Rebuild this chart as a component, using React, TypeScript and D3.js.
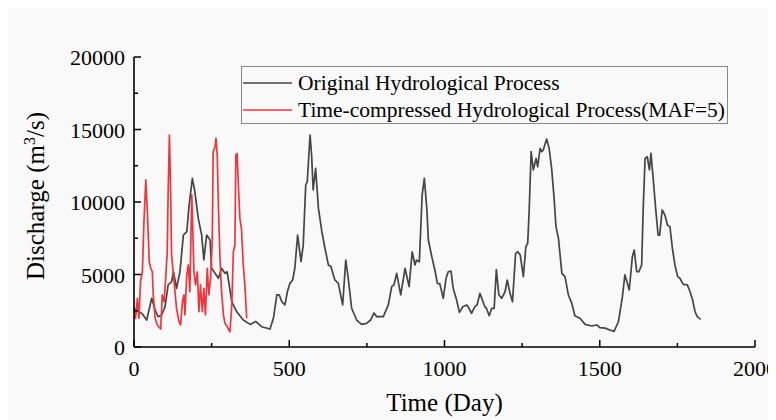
import React from 'react'
import * as d3 from 'd3'

// original series (day, discharge)
const origDays = [0, 25, 41, 57, 68, 78, 89, 100, 110, 121, 127, 137, 148, 159, 170, 177, 188, 196, 207, 218, 225, 234, 245, 250, 272, 282, 293, 300, 315, 331, 352, 374, 392, 411, 438, 449, 460, 468, 476, 486, 494, 502, 511, 518, 527, 538, 545, 553, 558, 567, 572, 577, 585, 594, 605, 615, 626, 634, 647, 658, 672, 682, 690, 701, 717, 733, 749, 762, 773, 782, 803, 819, 830, 837, 846, 859, 873, 886, 896, 905, 910, 919, 928, 935, 943, 948, 959, 969, 977, 985, 996, 1005, 1012, 1021, 1028, 1039, 1048, 1059, 1071, 1076, 1087, 1098, 1105, 1114, 1130, 1135, 1144, 1152, 1160, 1167, 1175, 1184, 1195, 1202, 1211, 1219, 1229, 1236, 1244, 1254, 1262, 1268, 1273, 1279, 1286, 1295, 1300, 1308, 1313, 1318, 1329, 1337, 1345, 1353, 1359, 1367, 1378, 1388, 1399, 1410, 1420, 1436, 1453, 1474, 1490, 1501, 1517, 1533, 1546, 1560, 1567, 1573, 1581, 1589, 1595, 1605, 1611, 1619, 1626, 1635, 1640, 1646, 1653, 1660, 1665, 1672, 1680, 1688, 1693, 1701, 1710, 1718, 1726, 1734, 1742, 1751, 1758, 1769, 1782, 1791, 1799, 1807, 1814, 1825]
const origValues = [2650, 2320, 1860, 3360, 2550, 2090, 2210, 2780, 4280, 4500, 5190, 4050, 5190, 7720, 7950, 9680, 11630, 10710, 8870, 7720, 6000, 7720, 7380, 5430, 4740, 5430, 5080, 5190, 3120, 2430, 1860, 1560, 1760, 1400, 1240, 1980, 3590, 3590, 3120, 2900, 3810, 4390, 4620, 5430, 7720, 5880, 7030, 11170, 11400, 14620, 13240, 10830, 12320, 9560, 7950, 6810, 5660, 5550, 4620, 4390, 2900, 6000, 4740, 2670, 1860, 1560, 1630, 1860, 2350, 2090, 2090, 2900, 4160, 4280, 5080, 3590, 5430, 4160, 6570, 5660, 6000, 5880, 10480, 11630, 9560, 7380, 6230, 5310, 4390, 4350, 3360, 4740, 5190, 5230, 4050, 3240, 2390, 2780, 2900, 2780, 2320, 2780, 2900, 3700, 2780, 2670, 2160, 2670, 2670, 5340, 3600, 3360, 3810, 4620, 3700, 3120, 6460, 6570, 6340, 4850, 6920, 7150, 9560, 13470, 12210, 13010, 12430, 13700, 13470, 13580, 14340, 13700, 12320, 10250, 8300, 7500, 5080, 4850, 3590, 3010, 2160, 1980, 1560, 1450, 1520, 1330, 1300, 1170, 1080, 1740, 2670, 3470, 4970, 4390, 3930, 6230, 6690, 5190, 5190, 5660, 9560, 13010, 13120, 12210, 13350, 11630, 9560, 7720, 7720, 9450, 9100, 8410, 8300, 6810, 5660, 4850, 4740, 4320, 4280, 3810, 3240, 2430, 2090, 1910]

// time-compressed series
const compDays = [0, 5, 11, 16, 21, 27, 32, 38, 43, 46, 49, 54, 59, 62, 68, 75, 86, 91, 97, 102, 107, 110, 114, 118, 121, 127, 132, 137, 145, 150, 156, 161, 164, 170, 175, 180, 186, 189, 193, 198, 204, 209, 214, 220, 225, 230, 236, 241, 247, 252, 255, 261, 264, 268, 272, 277, 282, 288, 293, 300, 309, 315, 320, 325, 328, 332, 337, 341, 346, 352, 357, 363]
const compValues = [2780, 1980, 3360, 1980, 4500, 5190, 8640, 11520, 9330, 7720, 5880, 5430, 5190, 3590, 1980, 1520, 1240, 3590, 3120, 4740, 6570, 10710, 14620, 10710, 6340, 4970, 3810, 2670, 1740, 1520, 3120, 3590, 2210, 4970, 5660, 3810, 10500, 8410, 5190, 4280, 5190, 2430, 4280, 2430, 4050, 2210, 5430, 3590, 4850, 7260, 13470, 13810, 14390, 13240, 9560, 6110, 3810, 2210, 1630, 1400, 1050, 2900, 6570, 7030, 13240, 13350, 10710, 8870, 8180, 5660, 4280, 1980]

const xMajor = [0, 500, 1000, 1500, 2000]
const xMinor = [250, 750, 1250, 1750]
const yMajor = [0, 5000, 10000, 15000, 20000]
const yMinor = [2500, 7500, 12500, 17500]

const legendItems = [
  { label: 'Original Hydrological Process', color: '#454545' },
  { label: 'Time-compressed Hydrological Process(MAF=5)', color: '#f2353a' }
]

const W = 768
const H = 412
const font = "'Liberation Serif', 'Times New Roman', serif"

export default function App () {
  const x = d3.scaleLinear().domain([0, 2000]).range([126, 747])
  const y = d3.scaleLinear().domain([0, 20000]).range([339, 49])

  const line = d3.line<[number, number]>()
    .x(d => x(d[0]))
    .y(d => y(d[1]))

  const orig = origDays.map((d, i) => [d, origValues[i]] as [number, number])
  const comp = compDays.map((d, i) => [d, compValues[i]] as [number, number])

  return (
    <svg width={W} height={H} style={{ display: 'block', fontFamily: font }}>
      <rect width={W} height={H} fill='#f9f9f9' />

      <path d={line(orig) || ''} fill='none' stroke={legendItems[0].color} strokeWidth={1.7} strokeLinejoin='round' />
      <path d={line(comp) || ''} fill='none' stroke={legendItems[1].color} strokeWidth={1.7} strokeLinejoin='round' />

      {/* axes */}
      <line x1={x(0)} x2={x(2000)} y1={y(0)} y2={y(0)} stroke='#000' strokeWidth={1.6} />
      <line x1={x(0)} x2={x(0)} y1={y(0)} y2={y(20000)} stroke='#000' strokeWidth={1.6} />
      {xMajor.map(t => (
        <g key={'xm' + t}>
          <line x1={x(t)} x2={x(t)} y1={y(0)} y2={y(0) - 7} stroke='#000' strokeWidth={1.5} />
          <text x={x(t)} y={y(0) + 29} fontSize={22} fontFamily={font} textAnchor='middle'>{t}</text>
        </g>
      ))}
      {xMinor.map(t => (
        <line key={'xn' + t} x1={x(t)} x2={x(t)} y1={y(0)} y2={y(0) - 4} stroke='#000' strokeWidth={1.5} />
      ))}
      {yMajor.map(t => (
        <g key={'ym' + t}>
          <line x1={x(0)} x2={x(0) + 7} y1={y(t)} y2={y(t)} stroke='#000' strokeWidth={1.5} />
          <text x={x(0) - 9} y={y(t) + 8} fontSize={22} fontFamily={font} textAnchor='end'>{t}</text>
        </g>
      ))}
      {yMinor.map(t => (
        <line key={'yn' + t} x1={x(0)} x2={x(0) + 4} y1={y(t)} y2={y(t)} stroke='#000' strokeWidth={1.5} />
      ))}

      <text x={(x(0) + x(2000)) / 2} y={403} fontSize={25} fontFamily={font} textAnchor='middle'>Time (Day)</text>
      <text transform={`translate(36,${(y(0) + y(20000)) / 2 - 6}) rotate(-90)`} fontSize={25} fontFamily={font} textAnchor='middle'>
        Discharge (m<tspan dy={-9} fontSize={16}>3</tspan><tspan dy={9}>/s)</tspan>
      </text>

      {/* legend */}
      <rect x={233.5} y={58.5} width={486} height={57} fill='none' stroke='#888' strokeWidth={1} />
      {legendItems.map((it, i) => (
        <g key={it.label} transform={`translate(0,${75 + i * 27})`}>
          <line x1={235} x2={284} y1={0} y2={0} stroke={it.color} strokeWidth={1.6} />
          <text x={290} y={7} fontSize={21.5} fontFamily={font}>{it.label}</text>
        </g>
      ))}
    </svg>
  )
}
